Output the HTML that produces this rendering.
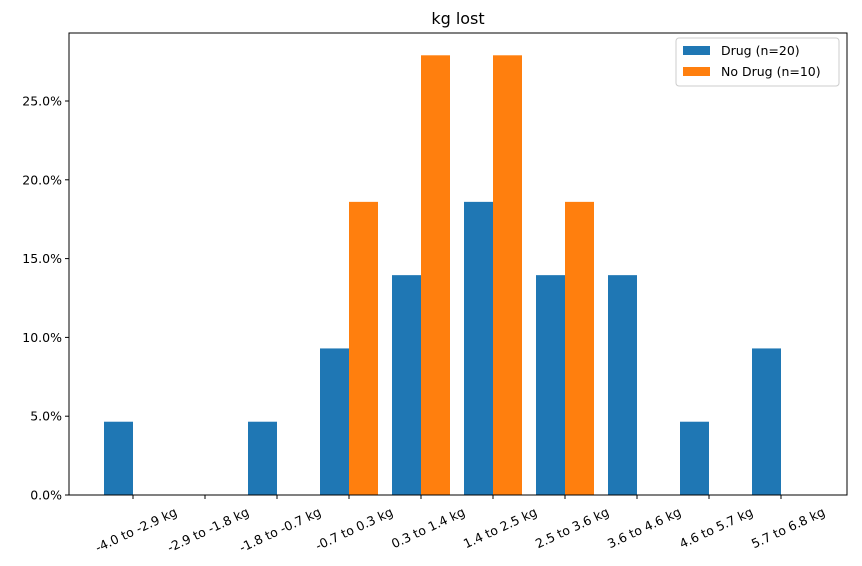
<!DOCTYPE html>
<html><head><meta charset="utf-8"><style>
body{margin:0;background:#fff;font-family:"Liberation Sans","DejaVu Sans",sans-serif}
svg text{font-family:"DejaVu Sans","Liberation Sans",sans-serif}
</style></head><body>
<svg id="chart" width="862" height="561"></svg>
<script>
const categories=["-4.0 to -2.9 kg","-2.9 to -1.8 kg","-1.8 to -0.7 kg","-0.7 to 0.3 kg","0.3 to 1.4 kg","1.4 to 2.5 kg","2.5 to 3.6 kg","3.6 to 4.6 kg","4.6 to 5.7 kg","5.7 to 6.8 kg"];
const drugValues=[4.65,0,4.65,9.3,13.95,18.6,13.95,13.95,4.65,9.3];
const noDrugValues=[0,0,0,18.6,27.9,27.9,18.6,0,0,0];
const yTicks=[0,5,10,15,20,25];
const seriesNames=["Drug (n=20)","No Drug (n=10)"];

const NS="http://www.w3.org/2000/svg";
const svg=document.getElementById('chart');
const L=69,R=847,T=33,B=495;
const y=v=>B-v*(495-101)/25;
const x=i=>133+72*i;
const bw=29;
function el(t,a,p){const e=document.createElementNS(NS,t);for(const k in a)e.setAttribute(k,a[k]);(p||svg).appendChild(e);return e;}

const title=el('text',{x:(L+R)/2,y:24,'text-anchor':'middle','font-size':16,fill:'#000'});
title.textContent='kg lost';



drugValues.forEach((v,i)=>{
  const r=el('rect',{x:x(i)-bw,y:y(v),width:bw,height:B-y(v),fill:'#1f77b4'});
  
  
});
noDrugValues.forEach((v,i)=>{
  const r=el('rect',{x:x(i),y:y(v),width:bw,height:B-y(v),fill:'#ff7f0e'});
  
  
});

const frame=el('rect',{x:L,y:T,width:R-L,height:B-T,fill:'none',stroke:'#000','stroke-width':1});



yTicks.forEach(t=>{
  el('line',{x1:L-4,x2:L,y1:y(t),y2:y(t),stroke:'#000'});
  const tx=el('text',{x:L-7,y:y(t)+4.5,'text-anchor':'end','font-size':12.5});
  tx.textContent=t.toFixed(1)+'%';
  
  
});
categories.forEach((c,i)=>{
  el('line',{x1:x(i),x2:x(i),y1:B,y2:B+4,stroke:'#000'});
  const tx=el('text',{x:x(i)+45,y:B+20,'text-anchor':'end','font-size':12.5,transform:`rotate(-25 ${x(i)+45} ${B+20})`});
  tx.textContent=c;
  
  
});

const lg=el('g',{});


el('rect',{x:676,y:38,width:163,height:48,rx:3,fill:'#fff',stroke:'#ccc'},lg);
const colors=['#1f77b4','#ff7f0e'];
seriesNames.forEach((n,i)=>{
  const r=el('rect',{x:683,y:46+i*21,width:27,height:9,fill:colors[i]},lg);
  
  
  const t=el('text',{x:721,y:55+i*21,'font-size':12.5},lg);
  t.textContent=n;
  
  
});
</script>
</body></html>
